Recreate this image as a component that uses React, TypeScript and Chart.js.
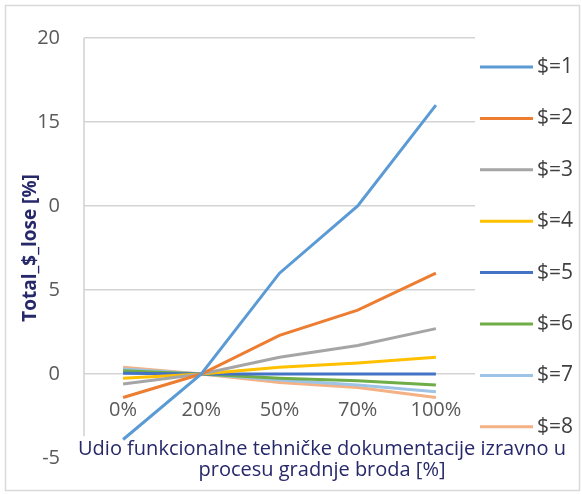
import React, { useEffect, useRef } from "react";
import { Chart, registerables } from "chart.js";

Chart.register(...registerables);

const categories = ["0%", "20%", "50%", "70%", "100%"];
const seriesLabels = ["$=1", "$=2", "$=3", "$=4", "$=5", "$=6", "$=7", "$=8"];
const s1 = [-3.9, 0, 6.0, 10.0, 16.0];
const s2 = [-1.4, 0, 2.3, 3.8, 6.0];
const s3 = [-0.6, 0, 1.0, 1.7, 2.7];
const s4 = [-0.25, 0, 0.4, 0.65, 1.0];
const s5 = [0.05, 0, 0, 0, 0];
const s6 = [0.2, 0, -0.25, -0.4, -0.65];
const s7 = [0.3, 0, -0.35, -0.65, -1.05];
const s8 = [0.4, 0, -0.5, -0.8, -1.4];
const seriesValues = [s1, s2, s3, s4, s5, s6, s7, s8];
const seriesColors = ["#5B9BD5", "#ED7D31", "#A5A5A5", "#FFC000", "#4472C4", "#70AD47", "#9DC3E6", "#F4B183"];
const yTickLabels: Record<string, string> = { "20": "20", "15": "15", "10": "0", "5": "5", "0": "0", "-5": "-5" };
const yTitle = "Total_$_lose [%]";
const xTitle = ["Udio funkcionalne tehničke dokumentacije izravno u", "procesu gradnje broda [%]"];

const FONT = "'Open Sans', 'DejaVu Sans', sans-serif";
const TITLE_COLOR = "#26286a";
const TICK_COLOR = "#595959";

const framePlugin = {
  id: "frame",
  beforeDraw(chart: any) {
    const { ctx } = chart;
    ctx.save();
    ctx.fillStyle = "#ffffff";
    ctx.fillRect(0, 0, chart.width, chart.height);
    ctx.strokeStyle = "#d9d9d9";
    ctx.lineWidth = 1.5;
    ctx.strokeRect(5.5, 5.5, chart.width - 8, chart.height - 9);
    ctx.restore();
  },
};

const axisLinePlugin = {
  id: "axisLine",
  beforeDatasetsDraw(chart: any) {
    const { ctx, chartArea, scales } = chart;
    const yBottom = scales.y.getPixelForValue(-3.7);
    ctx.save();
    ctx.strokeStyle = "#d0d0d0";
    ctx.lineWidth = 1.5;
    ctx.beginPath();
    ctx.moveTo(chartArea.left, chartArea.top);
    ctx.lineTo(chartArea.left, yBottom);
    ctx.stroke();
    ctx.restore();
  },
};

// Tick labels: y labels beside the value axis, category labels just below the y = 0 line.
const labelsPlugin = {
  id: "axisLabels",
  afterDraw(chart: any) {
    const { ctx, scales, chartArea } = chart;
    const xs = scales.x;
    const ys = scales.y;
    const y0 = ys.getPixelForValue(0);
    ctx.save();
    ctx.font = `20px ${FONT}`;
    ctx.fillStyle = TICK_COLOR;
    ctx.textBaseline = "middle";
    ctx.textAlign = "right";
    ys.ticks.forEach((t: any) => {
      const lab = yTickLabels[String(t.value)] ?? String(t.value);
      ctx.fillText(lab, chartArea.left - 24, ys.getPixelForValue(t.value));
    });
    ctx.textAlign = "center";
    (chart.data.labels as string[]).forEach((lab, i) => {
      ctx.fillText(lab, xs.getPixelForValue(i), y0 + 36);
    });
    ctx.fillStyle = TITLE_COLOR;
    xTitle.forEach((line, i) => {
      ctx.fillText(line, 322, 449 + i * 21);
    });
    ctx.restore();
  },
};

const legendPlugin = {
  id: "customLegend",
  afterDraw(chart: any) {
    const { ctx, chartArea } = chart;
    const datasets = chart.data.datasets;
    const x0 = chartArea.right + 5;
    const y0 = 67;
    const step = 51.4;
    ctx.save();
    ctx.font = `21px ${FONT}`;
    ctx.textBaseline = "middle";
    ctx.textAlign = "left";
    datasets.forEach((ds: any, i: number) => {
      const y = y0 + i * step;
      ctx.strokeStyle = ds.borderColor;
      ctx.lineWidth = 3;
      ctx.beginPath();
      ctx.moveTo(x0, y);
      ctx.lineTo(x0 + 53, y);
      ctx.stroke();
      ctx.fillStyle = "#404040";
      ctx.fillText(ds.label, x0 + 57, y);
    });
    ctx.restore();
  },
};

export default function App() {
  const ref = useRef<HTMLCanvasElement | null>(null);
  useEffect(() => {
    if (!ref.current) return;
    const chart = new Chart(ref.current, {
      type: "line",
      data: {
        labels: categories,
        datasets: seriesValues.map((vals, i) => ({
          label: seriesLabels[i],
          data: vals,
          borderColor: seriesColors[i],
          backgroundColor: seriesColors[i],
          borderWidth: 3,
          pointRadius: 0,
          tension: 0,
          fill: false,
        })),
      },
      options: {
        responsive: true,
        maintainAspectRatio: false,
        animation: false,
        layout: { padding: { top: 38, bottom: 36, right: 107, left: 0 } },
        plugins: {
          legend: { display: false },
          tooltip: { enabled: false },
        },
        scales: {
          x: {
            type: "category",
            display: false,
            offset: true,
          },
          y: {
            min: -5,
            max: 20,
            ticks: {
              stepSize: 5,
              display: false,
            },
            grid: {
              drawTicks: false,
              color: (c: any) => (c.tick && c.tick.value === -5 ? "rgba(0,0,0,0)" : "#d4d4d4"),
              lineWidth: 1.5,
            },
            border: { display: false },
            title: {
              display: true,
              text: yTitle,
              color: TITLE_COLOR,
              font: { size: 19, weight: "bold", family: FONT },
              padding: { top: 19, bottom: 0 },
            },
            afterFit: (scale: any) => {
              scale.width = 84;
            },
          },
        },
      },
      plugins: [framePlugin, axisLinePlugin, labelsPlugin, legendPlugin],
    });
    return () => chart.destroy();
  }, []);
  return (
    <div style={{ position: "absolute", left: 0, top: 0, width: 582, height: 494 }}>
      <canvas ref={ref} />
    </div>
  );
}
